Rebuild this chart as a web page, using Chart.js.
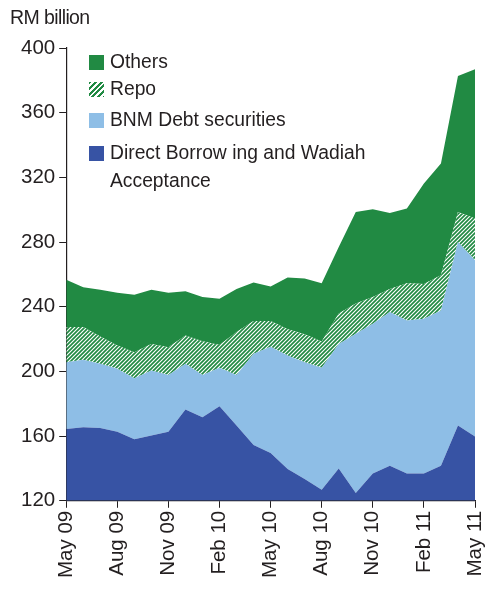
<!DOCTYPE html>
<html>
<head>
<meta charset="utf-8">
<script src="https://cdn.jsdelivr.net/npm/chart.js@4/dist/chart.umd.min.js"></script>
<style>
  html, body { margin: 0; padding: 0; background: #fff; }
  body { width: 485px; height: 591px; position: relative; overflow: hidden;
         font-family: "Liberation Sans", Arial, sans-serif; color: #231f20; }
  #wrap { position: absolute; left: 0; top: 0; width: 485px; height: 591px; }
  .unit { position: absolute; left: 10px; top: 6px; font-size: 19.5px; letter-spacing: -0.6px; }
  .legend { position: absolute; left: 89px; top: 55px; font-size: 19.3px; line-height: 1; }
  .legend .row { position: absolute; left: 0; white-space: nowrap; }
  .legend .box { position: absolute; left: 0; width: 15px; height: 15px; }
  .legend .txt { position: absolute; left: 21px; line-height: 28px; top: -7px; }
</style>
</head>
<body>
<div id="wrap"><canvas id="grafico" width="485" height="591"></canvas></div>
<div class="unit">RM billion</div>
<div class="legend" id="legenda"></div>
<script>
// Meses (maio/09 a maio/11) e rótulos exibidos no eixo
const meses = [
  "May 09", "Jun 09", "Jul 09", "Aug 09", "Sep 09", "Oct 09", "Nov 09", "Dec 09",
  "Jan 10", "Feb 10", "Mar 10", "Apr 10", "May 10", "Jun 10", "Jul 10", "Aug 10",
  "Sep 10", "Oct 10", "Nov 10", "Dec 10", "Jan 11", "Feb 11", "Mar 11", "Apr 11", "May 11",
];
const rotulosEixo = ["May 09", "Aug 09", "Nov 09", "Feb 10", "May 10", "Aug 10", "Nov 10", "Feb 11", "May 11"];

// Componentes (RM bilhões), empilhados de baixo para cima
const directBorrowing = [
  164.4, 165.4, 165.0, 162.7, 158.0, 160.3, 162.7, 176.4, 171.6, 178.4, 166.5, 154.5, 149.5,
  139.6, 133.4, 126.8, 140.0, 124.8, 136.9, 141.7, 136.9, 136.9, 141.7, 166.5, 159.7,
];
const bnmDebt = [
  41.3, 41.8, 39.7, 38.9, 37.8, 40.2, 35.1, 28.3, 26.2, 23.8, 31.3, 56.4, 65.7,
  70.2, 72.3, 75.4, 77.0, 98.5, 92.6, 95.0, 94.6, 95.7, 96.0, 113.5, 109.0,
];
const repo = [
  21.7, 20.2, 16.9, 14.4, 16.1, 16.5, 17.2, 17.5, 20.9, 14.2, 26.5, 20.2, 15.9,
  16.2, 17.3, 16.3, 18.8, 18.7, 16.5, 14.3, 23.0, 21.4, 21.7, 18.6, 25.8,
];
const others = [
  29.3, 24.6, 28.9, 32.7, 35.5, 33.5, 33.7, 27.3, 27.3, 28.6, 26.7, 23.9, 21.4,
  32.0, 34.5, 36.0, 41.2, 56.6, 54.3, 47.0, 46.2, 62.2, 69.2, 84.1, 92.3,
];

const VERDE = "#218a43";
const AZUL_CLARO = "#8ebee6";
const AZUL = "#3753a4";

// Hachura diagonal verde/branca para o Repo
function padraoHachura() {
  const c = document.createElement("canvas");
  c.width = 4; c.height = 4;
  const g = c.getContext("2d");
  g.fillStyle = "#ffffff";
  g.fillRect(0, 0, 4, 4);
  g.strokeStyle = VERDE;
  g.lineWidth = 1.7;
  g.beginPath();
  g.moveTo(-1, 5); g.lineTo(5, -1);
  g.moveTo(-1, 1); g.lineTo(1, -1);
  g.moveTo(3, 5); g.lineTo(5, 3);
  g.stroke();
  return g.createPattern(c, "repeat");
}
const hachura = padraoHachura();

function serie(label, data, cor, fill) {
  return {
    label, data,
    backgroundColor: cor,
    borderWidth: 0,
    pointRadius: 0,
    tension: 0,
    fill,
  };
}

const fonte = { family: "'Liberation Sans', Arial, sans-serif", size: 20.5 };

new Chart(document.getElementById("grafico"), {
  type: "line",
  data: {
    labels: meses,
    datasets: [
      serie("Direct Borrow ing and Wadiah Acceptance", directBorrowing, AZUL, "origin"),
      serie("BNM Debt securities", bnmDebt, AZUL_CLARO, "-1"),
      serie("Repo", repo, hachura, "-1"),
      serie("Others", others, VERDE, "-1"),
    ],
  },
  options: {
    responsive: false,
    animation: false,
    layout: { padding: { left: 17, top: 48, right: 10, bottom: 10 } },
    plugins: { legend: { display: false }, tooltip: { enabled: false } },
    scales: {
      x: {
        offset: false,
        border: { color: "#231f20", width: 1.2 },
        grid: {
          drawOnChartArea: false,
          tickLength: 7,
          color: (ctx) => (ctx.index % 3 === 0 ? "#231f20" : "rgba(0,0,0,0)"),
        },
        ticks: {
          autoSkip: false,
          maxRotation: 90,
          minRotation: 90,
          padding: 3,
          color: "#231f20",
          font: fonte,
          callback: function (v, i) {
            const m = meses[i];
            return rotulosEixo.includes(m) && i % 3 === 0 ? m : "";
          },
        },
        // o último rótulo pode encostar na borda, como no original
        afterFit: (eixo) => { eixo.paddingRight = 0; },
      },
      y: {
        stacked: true,
        min: 120,
        max: 400,
        border: { color: "#231f20", width: 1.2 },
        grid: { drawOnChartArea: false, tickLength: 7, color: "#231f20" },
        ticks: { stepSize: 40, padding: 4, color: "#231f20", font: fonte },
      },
    },
  },
});

// Legenda dentro da área do gráfico
const itensLegenda = [
  { nome: "Others", cor: VERDE, top: 0 },
  { nome: "Repo", hachura: true, top: 27 },
  { nome: "BNM Debt securities", cor: AZUL_CLARO, top: 58 },
  { nome: "Direct Borrow ing and Wadiah<br>Acceptance", cor: AZUL, top: 91 },
];
document.getElementById("legenda").innerHTML = itensLegenda.map((it) => {
  const fundo = it.hachura
    ? `background: repeating-linear-gradient(135deg, ${VERDE} 0 2px, #fff 2px 4px);`
    : `background: ${it.cor};`;
  return `<div class="row" style="top:${it.top}px">
    <span class="box" style="${fundo}"></span>
    <span class="txt">${it.nome}</span>
  </div>`;
}).join("");
</script>
</body>
</html>
